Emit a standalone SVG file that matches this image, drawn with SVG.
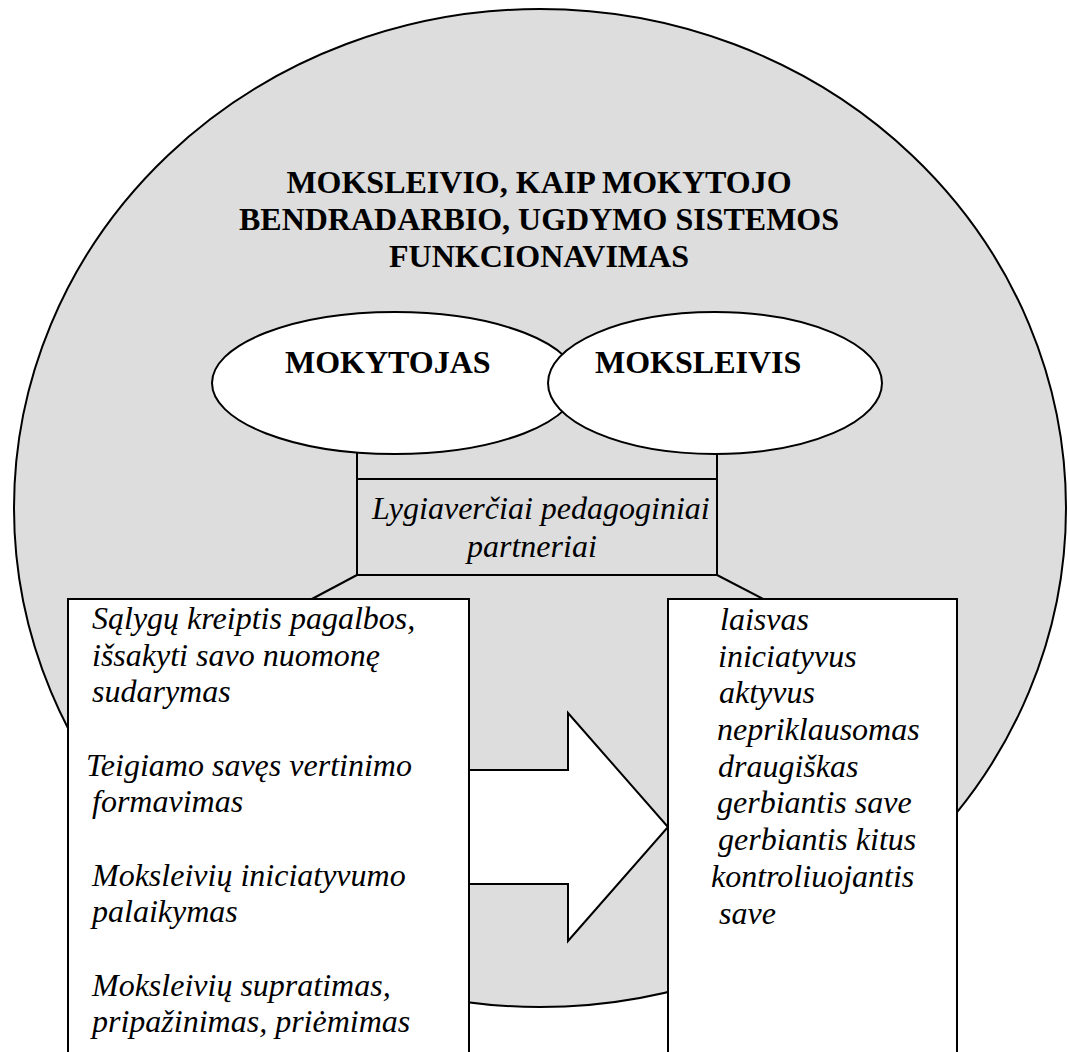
<svg xmlns="http://www.w3.org/2000/svg" width="1068" height="1052" viewBox="0 0 1068 1052">
<style>
.ln{stroke:#000;stroke-width:2;fill:none}
.wh{fill:#fff;stroke:#000;stroke-width:2}
.bt{font-family:"Liberation Serif","Times New Roman",serif;font-weight:bold;font-size:32px;fill:#000}
.it{font-family:"Liberation Serif","Times New Roman",serif;font-style:italic;font-size:32px;fill:#000}
</style>
<rect x="0" y="0" width="1068" height="1052" fill="#fff"/>
<g id="background">
<ellipse cx="540" cy="508" rx="526" ry="499" fill="#dddddd" stroke="#000" stroke-width="2"/>
</g>
<g id="title">
<text class="bt" text-anchor="middle" x="539" y="193">MOKSLEIVIO, KAIP MOKYTOJO</text>
<text class="bt" text-anchor="middle" x="539" y="230">BENDRADARBIO, UGDYMO SISTEMOS</text>
<text class="bt" text-anchor="middle" x="539" y="267">FUNKCIONAVIMAS</text>
</g>
<g id="connectors">
<line class="ln" x1="357" y1="450" x2="357" y2="575"/>
<line class="ln" x1="717" y1="450" x2="717" y2="575"/>
<line class="ln" x1="357" y1="575" x2="310" y2="600"/>
<line class="ln" x1="717" y1="575" x2="765" y2="600"/>
</g>
<g id="node-partneriai">
<rect x="357" y="479" width="360" height="96" fill="none" stroke="#000" stroke-width="2"/>
<text class="it" x="372" y="519">Lygiaverčiai pedagoginiai</text>
<text class="it" x="467" y="557">partneriai</text>
</g>
<g id="node-mokytojas">
<ellipse class="wh" cx="395" cy="383" rx="183" ry="71"/>
<text class="bt" x="285" y="373">MOKYTOJAS</text>
</g>
<g id="node-moksleivis">
<ellipse class="wh" cx="715" cy="383" rx="167" ry="71"/>
<text class="bt" x="595" y="373">MOKSLEIVIS</text>
</g>
<g id="arrow">
<polygon class="wh" points="400,770 568,770 568,713 668,827 568,941 568,884 400,884"/>
</g>
<g id="node-left">
<rect class="wh" x="68" y="599" width="401" height="470"/>
<text class="it" x="92" y="629">Sąlygų kreiptis pagalbos,</text>
<text class="it" x="92" y="666">išsakyti savo nuomonę</text>
<text class="it" x="92" y="702">sudarymas</text>
<text class="it" x="86" y="776">Teigiamo savęs vertinimo</text>
<text class="it" x="92" y="812">formavimas</text>
<text class="it" x="92" y="886">Moksleivių iniciatyvumo</text>
<text class="it" x="92" y="922">palaikymas</text>
<text class="it" x="92" y="996">Moksleivių supratimas,</text>
<text class="it" x="92" y="1032">pripažinimas, priėmimas</text>
</g>
<g id="node-right">
<rect class="wh" x="668" y="599" width="289" height="470"/>
<text class="it" x="720" y="630">laisvas</text>
<text class="it" x="718" y="667">iniciatyvus</text>
<text class="it" x="719" y="703">aktyvus</text>
<text class="it" x="717" y="740">nepriklausomas</text>
<text class="it" x="718" y="777">draugiškas</text>
<text class="it" x="717" y="813">gerbiantis save</text>
<text class="it" x="718" y="850">gerbiantis kitus</text>
<text class="it" x="711" y="887">kontroliuojantis</text>
<text class="it" x="719" y="924">save</text>
</g>
</svg>
